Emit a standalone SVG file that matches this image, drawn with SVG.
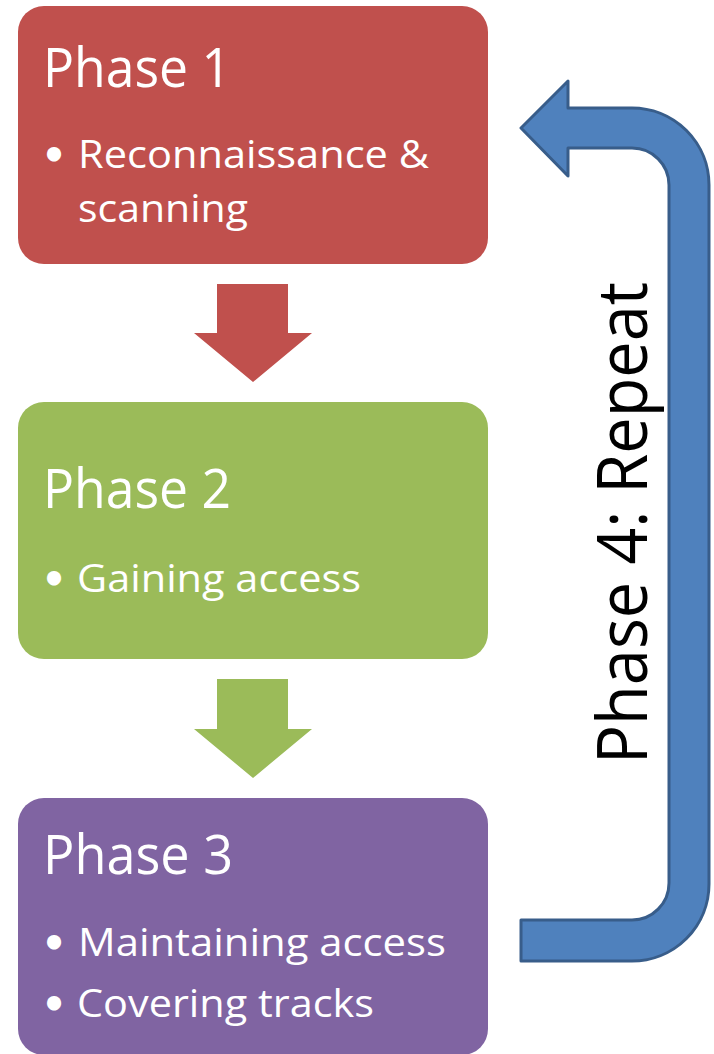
<svg xmlns="http://www.w3.org/2000/svg" width="714" height="1054" viewBox="0 0 714 1054">
  <style>
    .box-red { fill: #c0504d; }
    .box-green { fill: #9bbb59; }
    .box-purple { fill: #8064a2; }
    .title { font-family: "Open Sans", "Noto Sans", sans-serif; font-size: 55px; fill: #ffffff; }
    .item { font-family: "Open Sans", "Noto Sans", sans-serif; font-size: 39px; fill: #ffffff; }
    .bullet { font-family: "DejaVu Sans", sans-serif; font-weight: bold; font-size: 40px; fill: #ffffff; text-anchor: middle; }
    .loop { fill: #4f81bd; stroke: #385d8a; stroke-width: 3; stroke-linejoin: round; }
    .loop-label { font-family: "Open Sans", "Noto Sans", sans-serif; font-size: 70px; fill: #000000; }
  </style>
  <rect width="714" height="1054" fill="#ffffff"/>

  <g id="phase1">
    <rect class="box-red" x="18" y="6" width="470" height="258" rx="26" ry="26"/>
    <text class="title" x="43" y="87" textLength="188" lengthAdjust="spacingAndGlyphs">Phase 1</text>
    <text class="bullet" x="54" y="169">•</text>
    <text class="item" x="78" y="168" textLength="351" lengthAdjust="spacingAndGlyphs">Reconnaissance &amp;</text>
    <text class="item" x="78" y="222" textLength="170" lengthAdjust="spacingAndGlyphs">scanning</text>
  </g>

  <g id="phase2">
    <rect class="box-green" x="18" y="402" width="470" height="257" rx="26" ry="26"/>
    <text class="title" x="43" y="508" textLength="188" lengthAdjust="spacingAndGlyphs">Phase 2</text>
    <text class="bullet" x="54" y="593">•</text>
    <text class="item" x="77" y="592" textLength="284" lengthAdjust="spacingAndGlyphs">Gaining access</text>
  </g>

  <g id="phase3">
    <rect class="box-purple" x="18" y="798" width="470" height="257" rx="26" ry="26"/>
    <text class="title" x="43" y="874" textLength="190" lengthAdjust="spacingAndGlyphs">Phase 3</text>
    <text class="bullet" x="54" y="957">•</text>
    <text class="item" x="78" y="956" textLength="368" lengthAdjust="spacingAndGlyphs">Maintaining access</text>
    <text class="bullet" x="54" y="1018">•</text>
    <text class="item" x="77" y="1017" textLength="297" lengthAdjust="spacingAndGlyphs">Covering tracks</text>
  </g>

  <g id="connectors">
    <!-- block arrows between phases -->
    <polygon class="box-red" points="217,284 288,284 288,333 312,333 253,382 194,333 217,333"/>
    <polygon class="box-green" points="217,679 288,679 288,729 312,729 253,778 194,729 217,729"/>
    <!-- U-turn arrow from phase 3 back to phase 1 -->
    <path class="loop" d="M 521,128 L 568,81 L 568,108 L 632,108 A 77 77 0 0 1 709,185 L 709,884 A 77 77 0 0 1 632,961 L 521,961 L 521,920 L 632,920 A 37 37 0 0 0 669,883 L 669,185 A 37 37 0 0 0 632,148 L 568,148 L 568,176 Z"/>
  </g>

  <g id="phase4">
    <text class="loop-label" transform="translate(647,764) rotate(-90)" x="0" y="0" textLength="482" lengthAdjust="spacingAndGlyphs">Phase 4: Repeat</text>
  </g>
</svg>
